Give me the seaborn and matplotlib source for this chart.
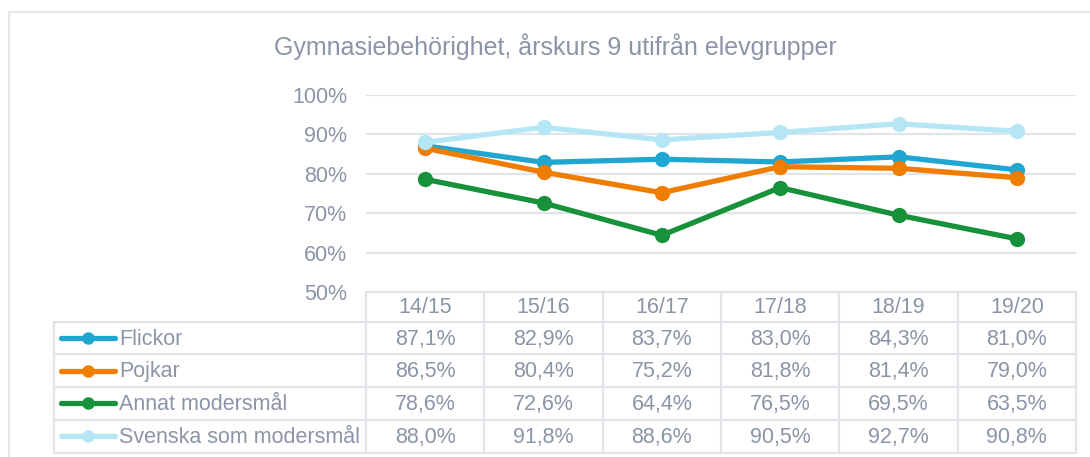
import numpy as np
import pandas as pd
import matplotlib
matplotlib.use("Agg")
import matplotlib.pyplot as plt
import seaborn as sns

# ── Data ──────────────────────────────────────────────────────────────────────
years = ["14/15", "15/16", "16/17", "17/18", "18/19", "19/20"]
flickor = [87.1, 82.9, 83.7, 83.0, 84.3, 81.0]
pojkar = [86.5, 80.4, 75.2, 81.8, 81.4, 79.0]
annat = [78.6, 72.6, 64.4, 76.5, 69.5, 63.5]
svenska = [88.0, 91.8, 88.6, 90.5, 92.7, 90.8]
series_names = ["Flickor", "Pojkar", "Annat modersmål", "Svenska som modersmål"]
yticks = [50, 60, 70, 80, 90, 100]

colors = ["#1FA6D1", "#EE7D00", "#17913A", "#B5E6F6"]
text_col = "#8B95A7"
grid_col = "#E1E4E9"

values = [flickor, pojkar, annat, svenska]
df = pd.DataFrame({
    "year": np.tile(np.arange(len(years)), len(series_names)),
    "value": np.concatenate(values) / 100,
    "group": np.repeat(series_names, len(years)),
})

sns.set_theme(style="white")
plt.rcParams["font.family"] = ["Liberation Sans", "DejaVu Sans"]

W, H = 1090, 457
fig = plt.figure(figsize=(W / 100, H / 100), dpi=100)


def fig_rect(x0, y0, x1, y1):
    # pixel box -> figure fraction rect
    return [x0 / W, 1 - y1 / H, (x1 - x0) / W, (y1 - y0) / H]


# outer chart border
fig.patches.append(plt.Rectangle((8.5 / W, -0.1), 1.2, 1 - 12.5 / H + 0.1,
                                 transform=fig.transFigure, fill=False,
                                 edgecolor=grid_col, linewidth=1.3))

# ── Line chart ────────────────────────────────────────────────────────────────
px0, px1 = 366, 1076
fs = 15.5
ax = fig.add_axes(fig_rect(px0, 95, px1, 292))
sns.lineplot(data=df, x="year", y="value", hue="group", palette=colors,
             hue_order=series_names, marker="o", markersize=11,
             markeredgewidth=0, linewidth=3.8, legend=False, ax=ax)
ax.set_xlim(-0.5, len(years) - 0.5)
ax.set_ylim(0.5, 1.0)
ax.set_yticks([t / 100 for t in yticks])
ax.set_yticklabels([f"{t}%" for t in yticks])
ax.tick_params(axis="y", length=0, pad=13.5, labelsize=fs, labelcolor=text_col)
ax.set_xticks([])
ax.set_xlabel("")
ax.set_ylabel("")
for t in yticks[1:]:
    ax.axhline(t / 100, color=grid_col, linewidth=1.6, zorder=0)
for s in ax.spines.values():
    s.set_visible(False)
ax.patch.set_alpha(0)

fig.text(555 / W, 1 - 47 / H, "Gymnasiebehörighet, årskurs 9 utifrån elevgrupper",
         ha="center", va="center", fontsize=18, color=text_col)

# ── Data table ────────────────────────────────────────────────────────────────
tx0, ty0, ty1 = 54, 292, 453
tab = fig.add_axes(fig_rect(tx0, ty0, px1, ty1))
tab.set_xlim(tx0, px1)
tab.set_ylim(ty1, ty0)
tab.axis("off")

col_w = (px1 - px0) / len(years)
row_edges = [292, 322, 354.5, 387, 420, 453]
lw = 1.6

# header row (only over the category columns)
tab.plot([px0, px1], [row_edges[0]] * 2, color=grid_col, lw=lw, clip_on=False)
for i in range(len(years) + 1):
    x = px0 + i * col_w
    tab.plot([x, x], [row_edges[0], row_edges[-1]], color=grid_col, lw=lw, clip_on=False)
for y in row_edges[1:]:
    tab.plot([tx0, px1], [y, y], color=grid_col, lw=lw, clip_on=False)
tab.plot([tx0, tx0], [row_edges[1], row_edges[-1]], color=grid_col, lw=lw, clip_on=False)

for i, yr in enumerate(years):
    xc = px0 + (i + 0.5) * col_w
    tab.text(xc, (row_edges[0] + row_edges[1]) / 2 + 1, yr, ha="center", va="center",
             fontsize=fs, color=text_col)

for r, (name, vals) in enumerate(zip(series_names, values)):
    yc = (row_edges[r + 1] + row_edges[r + 2]) / 2
    tab.plot([61, 115], [yc, yc], color=colors[r], lw=3.8, solid_capstyle="round",
             clip_on=False)
    tab.plot([88], [yc], marker="o", markersize=9, markeredgewidth=0,
             color=colors[r], clip_on=False)
    tab.text(119, yc + 1, name, ha="left", va="center", fontsize=fs, color=text_col)
    for i, v in enumerate(vals):
        xc = px0 + (i + 0.5) * col_w
        tab.text(xc, yc + 1, f"{v:.1f}%".replace(".", ","), ha="center", va="center",
                 fontsize=fs, color=text_col)

fig.savefig("out.png", dpi=100, facecolor="white")
